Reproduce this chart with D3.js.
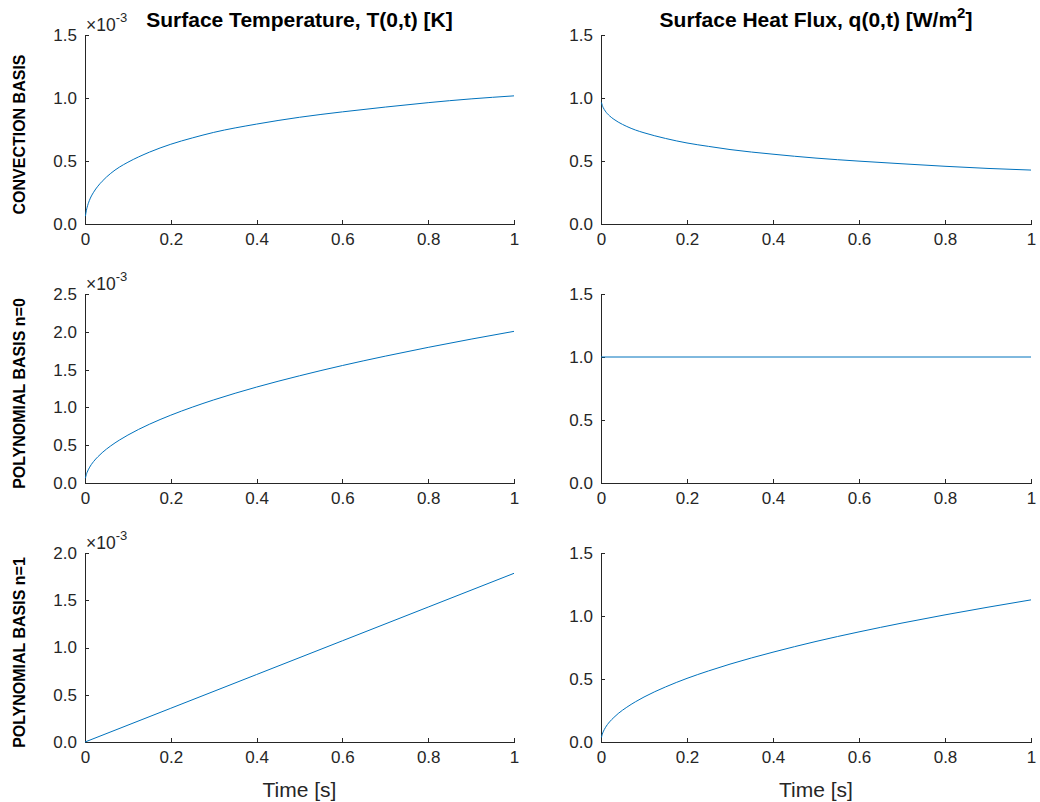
<!DOCTYPE html>
<html>
<head>
<meta charset="utf-8">
<script src="https://cdn.jsdelivr.net/npm/d3@7"></script>
<style>
  body { margin: 0; background: #fff; }
  svg { display: block; font-family: "Liberation Sans", Arial, sans-serif; }
  .axis path, .axis line { stroke: #262626; stroke-width: 1; shape-rendering: crispEdges; }
  .axis text { fill: #262626; font-size: 17px; }
</style>
</head>
<body>
<svg id="chart" width="1040" height="802"></svg>
<script>
// sample times (s) used by the curved series
const tCurve = [0.001, 0.003, 0.005, 0.01, 0.02, 0.03, 0.04, 0.06, 0.08, 0.1, 0.15, 0.2, 0.25, 0.3, 0.4, 0.5, 0.6, 0.7, 0.8, 0.9, 1.0]

// row 1: convection basis (T in 1e-3 K, q in W/m^2)
const convT = [0.062, 0.105, 0.133, 0.185, 0.252, 0.300, 0.339, 0.402, 0.451, 0.49, 0.570, 0.633, 0.683, 0.727, 0.793, 0.847, 0.890, 0.928, 0.963, 0.993, 1.017]
const convQ = [0.965, 0.941, 0.925, 0.896, 0.858, 0.831, 0.809, 0.774, 0.746, 0.724, 0.679, 0.643, 0.616, 0.591, 0.554, 0.523, 0.499, 0.478, 0.458, 0.441, 0.428]

// row 2: polynomial basis n=0
const poly0T = [0.063, 0.11, 0.142, 0.2, 0.284, 0.347, 0.401, 0.491, 0.567, 0.634, 0.777, 0.897, 1.003, 1.099, 1.269, 1.418, 1.554, 1.678, 1.794, 1.903, 2.006]
const tFlat = [0, 1]
const poly0Q = [1.0, 1.0]

// row 3: polynomial basis n=1
const tLin = [0, 0.2, 0.4, 0.6, 0.8, 1.0]
const poly1T = [0, 0.357, 0.714, 1.071, 1.428, 1.785]
const poly1Q = [0.036, 0.062, 0.08, 0.113, 0.16, 0.195, 0.226, 0.276, 0.319, 0.357, 0.437, 0.505, 0.564, 0.618, 0.713, 0.798, 0.874, 0.944, 1.009, 1.07, 1.128]

const xTicks = [0, 0.2, 0.4, 0.6, 0.8, 1]
const rowLabels = ['CONVECTION BASIS', 'POLYNOMIAL BASIS n=0', 'POLYNOMIAL BASIS n=1']
const yMaxT = [1.5, 2.5, 2.0]
const yMaxQ = [1.5, 1.5, 1.5]

const panels = [
  { row: 0, col: 0, t: tCurve, v: convT, ymax: yMaxT[0], exp: true },
  { row: 0, col: 1, t: tCurve, v: convQ, ymax: yMaxQ[0] },
  { row: 1, col: 0, t: tCurve, v: poly0T, ymax: yMaxT[1], exp: true },
  { row: 1, col: 1, t: tFlat, v: poly0Q, ymax: yMaxQ[1] },
  { row: 2, col: 0, t: tLin, v: poly1T, ymax: yMaxT[2], exp: true },
  { row: 2, col: 1, t: tCurve, v: poly1Q, ymax: yMaxQ[2] }
]

const colX = [[85, 514], [601, 1031]]
const rowY = [[35, 224], [294, 483], [553, 742]]
const lineColor = '#0072BD'

const svg = d3.select('#chart')

panels.forEach(p => {
  const [x0, x1] = colX[p.col]
  const [y0, y1] = rowY[p.row]
  const x = d3.scaleLinear().domain([0, 1]).range([x0, x1])
  const y = d3.scaleLinear().domain([0, p.ymax]).range([y1, y0])
  const g = svg.append('g')

  g.append('g')
    .attr('class', 'axis')
    .attr('transform', `translate(0,${y1})`)
    .call(d3.axisBottom(x).tickValues(xTicks).tickSizeInner(-4).tickSizeOuter(0).tickPadding(9)
      .tickFormat(d => d === 0 || d === 1 ? d3.format('d')(d) : d3.format('.1f')(d)))

  g.append('g')
    .attr('class', 'axis')
    .attr('transform', `translate(${x0},0)`)
    .call(d3.axisLeft(y).tickValues(d3.range(0, p.ymax + 0.01, 0.5)).tickSizeInner(-4).tickSizeOuter(0).tickPadding(8)
      .tickFormat(d3.format('.1f')))

  const line = d3.line()
    .x((d, i) => x(p.t[i]))
    .y(d => y(d))
    .curve(d3.curveMonotoneX)

  g.append('path')
    .datum(p.v)
    .attr('d', line)
    .attr('fill', 'none')
    .attr('stroke', lineColor)
    .attr('stroke-width', 1)

  if (p.exp) {
    const ex = g.append('text')
      .attr('x', x0 + 1)
      .attr('y', y0 - 4)
      .attr('fill', '#262626')
      .attr('font-size', 17.5)
    ex.append('tspan').text('×10')
    ex.append('tspan').attr('font-size', 13).attr('dy', -9).text('-3')
  }

  if (p.col === 0) {
    svg.append('text')
      .attr('transform', `translate(25,${(y0 + y1) / 2 + 5}) rotate(-90)`)
      .attr('text-anchor', 'middle')
      .attr('font-size', 16)
      .attr('font-weight', 'bold')
      .attr('fill', '#000')
      .text(rowLabels[p.row])
  }

  if (p.row === 2) {
    svg.append('text')
      .attr('x', (x0 + x1) / 2)
      .attr('y', 797)
      .attr('text-anchor', 'middle')
      .attr('font-size', 21)
      .attr('fill', '#262626')
      .text('Time [s]')
  }
})

// column titles
svg.append('text')
  .attr('x', (colX[0][0] + colX[0][1]) / 2)
  .attr('y', 27)
  .attr('text-anchor', 'middle')
  .attr('font-size', 21)
  .attr('font-weight', 'bold')
  .text('Surface Temperature, T(0,t) [K]')

const t2 = svg.append('text')
  .attr('x', (colX[1][0] + colX[1][1]) / 2)
  .attr('y', 27)
  .attr('text-anchor', 'middle')
  .attr('font-size', 21)
  .attr('font-weight', 'bold')
t2.append('tspan').text('Surface Heat Flux, q(0,t) [W/m')
t2.append('tspan').attr('font-size', 15).attr('dy', -9).text('2')
t2.append('tspan').attr('dy', 9).text(']')
</script>
</body>
</html>
